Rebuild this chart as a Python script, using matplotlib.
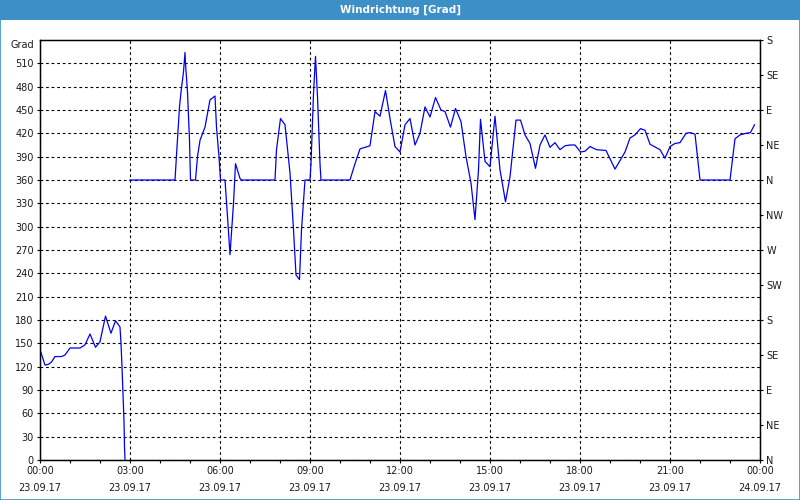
import matplotlib
matplotlib.use("Agg")
import numpy as np
import matplotlib.pyplot as plt
from matplotlib.patches import Rectangle
from matplotlib.ticker import MultipleLocator

# minutes since 23.09.17 00:00, wind direction in degrees
minutes_a = [1, 10, 17, 23, 30, 43, 50, 60, 80, 90, 100, 111, 120, 131, 142,
             151, 160, 162, 164, 166, 168, 169, 170]
grad_a = [140, 122, 123, 126, 133, 133, 135, 144, 144, 148, 162, 145, 152, 185,
          163, 179, 171, 150, 120, 85, 50, 17, 0]

minutes_b = [180, 270, 273, 279, 282, 287, 290, 291, 295, 299, 301, 311, 315, 320,
             330, 340, 350, 353, 358, 361, 370, 375, 380, 387, 391, 400, 403, 470,
             473, 481, 490, 500, 507, 512, 519, 523, 530, 540, 542, 547, 551, 555,
             560, 562, 620, 630, 640, 660, 670, 680, 691, 700, 710, 720, 730, 740,
             750, 760, 770, 780, 791, 802, 810, 821, 831, 842, 852, 862, 870, 877,
             881, 890, 900, 910, 920, 931, 940, 952, 961, 970, 980, 991, 1000, 1010,
             1020, 1030, 1040, 1050, 1060, 1070, 1081, 1090, 1100, 1113, 1132, 1150,
             1170, 1180, 1190, 1201, 1210, 1220, 1240, 1250, 1260, 1270, 1280, 1292,
             1300, 1310, 1320, 1380, 1390, 1400, 1412, 1421, 1429]
grad_b = [360, 360, 392, 454, 473, 499, 524, 510, 473, 411, 360, 360, 390, 411,
          428, 463, 468, 428, 390, 360, 360, 313, 264, 330, 381, 362, 360, 360,
          399, 439, 431, 369, 296, 238, 232, 296, 360, 360, 381, 471, 519, 467,
          381, 360, 360, 381, 400, 404, 448, 442, 475, 439, 403, 396, 431, 439,
          405, 420, 454, 441, 466, 450, 448, 428, 452, 435, 390, 356, 309, 373,
          438, 384, 377, 442, 373, 332, 364, 437, 437, 418, 407, 375, 405, 418,
          402, 408, 399, 404, 405, 405, 396, 397, 403, 399, 398, 374,
          396, 414, 418, 426, 424, 406, 399, 388, 403, 407, 408, 420,
          421, 419, 360, 360, 413, 418, 420, 421, 431]

tick_times = ["00:00", "03:00", "06:00", "09:00", "12:00", "15:00", "18:00", "21:00", "00:00"]
tick_dates = ["23.09.17"] * 8 + ["24.09.17"]
compass = ["N", "NE", "E", "SE", "S", "SW", "W", "NW", "N", "NE", "E", "SE", "S"]

blue_bar = "#3d8fc8"
text_col = "#1a1a1a"

fig = plt.figure(figsize=(8, 5), dpi=100, facecolor="white")
ax = fig.add_axes([0.05, 0.08, 0.90, 0.84])

ax.plot(np.array(minutes_a) / 60, grad_a, color="#0000ee", lw=0.9)
ax.plot(np.array(minutes_b) / 60, grad_b, color="#0000ee", lw=0.9)

ax.set_xlim(0, 24)
ax.set_ylim(0, 540)
ax.set_xticks(range(0, 25, 3))
ax.set_xticklabels([f"{t}\n{d}" for t, d in zip(tick_times, tick_dates)],
                   linespacing=1.9)
ax.xaxis.set_minor_locator(MultipleLocator(1))
ax.set_yticks(range(0, 511, 30))
ax.tick_params(direction="out", length=2.5, width=0.8, labelsize=7, pad=2,
               labelcolor=text_col)
ax.tick_params(axis="x", which="minor", length=2.5, width=0.8)
ax.grid(True, color="black", linestyle=(0, (2.5, 2.5)), linewidth=0.8)
for s in ax.spines.values():
    s.set_linewidth(1)

ax2 = ax.twinx()
ax2.set_ylim(0, 540)
ax2.set_yticks(range(0, 541, 45))
ax2.set_yticklabels(compass)
ax2.tick_params(direction="out", length=2.5, width=0.8, labelsize=7, pad=2,
                labelcolor=text_col)

ax.text(-0.008, 1.0, "Grad", transform=ax.transAxes, ha="right", va="top",
        fontsize=7, color=text_col)

fig.patches.append(Rectangle((0, 0.96), 1, 0.04, transform=fig.transFigure,
                             facecolor=blue_bar, edgecolor="none", zorder=0))
fig.patches.append(Rectangle((0.0006, 0.001), 0.9988, 0.998, transform=fig.transFigure,
                             fill=False, edgecolor=blue_bar, lw=1.2, zorder=1))
fig.text(0.5, 0.98, "Windrichtung [Grad]", color="white", fontsize=7.5,
         fontweight="bold", ha="center", va="center")

fig.savefig("out.png", dpi=100, facecolor="white")
